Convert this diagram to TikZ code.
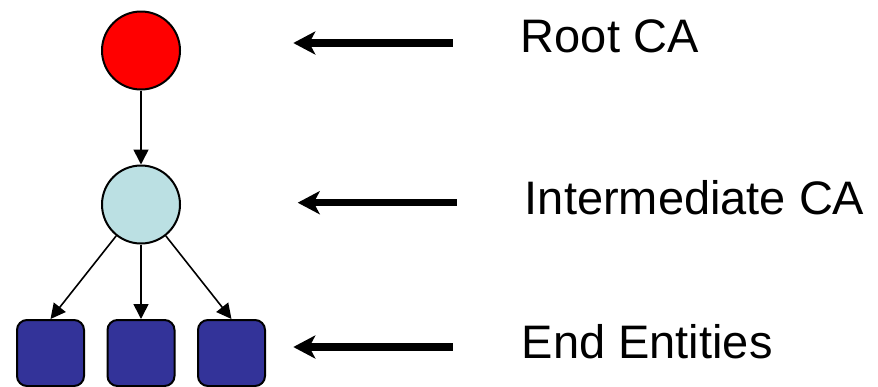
\documentclass[tikz,border=0pt]{standalone}
\usepackage{fontspec}
\setmainfont{Liberation Sans}
\usetikzlibrary{trees}
\usetikzlibrary{arrows.meta}

\definecolor{rootred}{RGB}{255,0,0}
\definecolor{midblue}{RGB}{187,224,227}
\definecolor{leafblue}{RGB}{51,51,153}

\begin{document}
\begin{tikzpicture}
[x=1pt,y=-1pt,%
  -{Triangle[length=15pt,width=15pt]},line width=1.6pt,%
  ca/.style={shape=circle,minimum size=78pt,inner sep=0pt,draw,line width=2pt},%
  entity/.style={shape=rectangle,rounded corners=10pt,minimum width=67pt,%
    minimum height=66pt,inner sep=0pt,draw,line width=2pt,fill=leafblue},%
  pointer/.style={-{Stealth[length=22pt,width=23pt,inset=6pt]},line width=7.5pt},%
  caption/.style={anchor=base west,inner sep=0pt,font=\fontsize{47}{56}\selectfont}]
\useasboundingbox (0,0) rectangle (878,386);
% hierarchy
\node[ca,fill=rootred] (root) at (141,50.5) {}
  [child anchor=north,level distance=154pt]
  child {node[ca,fill=midblue] (inter) {}
    [level distance=148.5pt,sibling distance=90.5pt]
    child {node[entity] (leaf1) {}}
    child {node[entity] (leaf2) {}}
    child {node[entity] (leaf3) {}}
  };
% captions
\node[caption] (rootname) at (520,52.3) {Root CA};
\node[caption] (intername) at (524,214) {Intermediate CA};
\node[caption] (leafname) at (521,358.3) {End Entities};
% pointers
\coordinate (roottail) at (452.7,43);
\coordinate (roothead) at (293.3,43);
\coordinate (intertail) at (456.7,202.7);
\coordinate (interhead) at (297.7,202.7);
\coordinate (leaftail) at (452.7,347);
\coordinate (leafhead) at (293.3,347);
\draw[pointer] (roottail) -- (roothead);
\draw[pointer] (intertail) -- (interhead);
\draw[pointer] (leaftail) -- (leafhead);
\end{tikzpicture}
\end{document}
